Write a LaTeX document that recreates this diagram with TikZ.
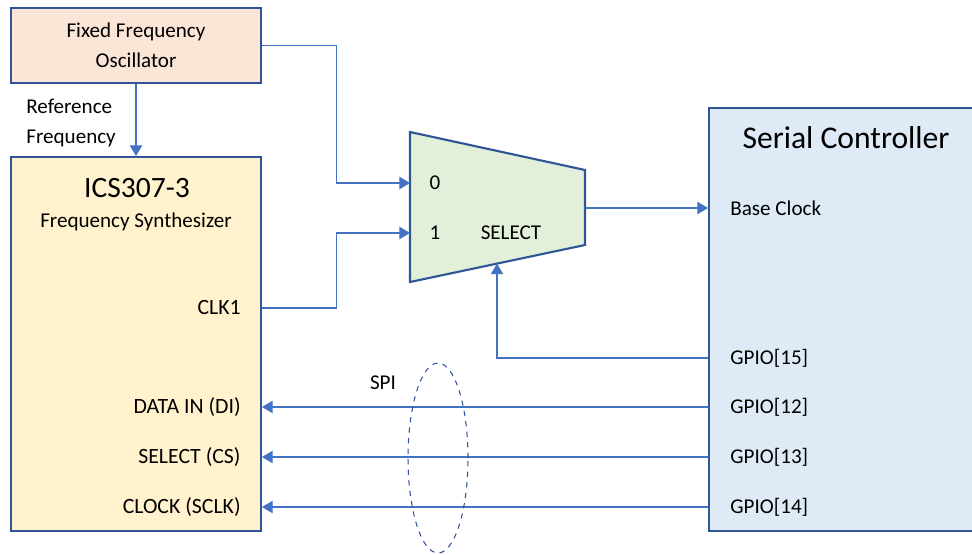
\documentclass[tikz,border=0pt]{standalone}
\usepackage{fontspec}
\setmainfont{Carlito}
\usepackage{tikz}
\usetikzlibrary{arrows.meta,calc,positioning,shapes.geometric}

\definecolor{oscfill}{HTML}{FBE5D6}
\definecolor{icsfill}{HTML}{FFF2CC}
\definecolor{serfill}{HTML}{DEEBF7}
\definecolor{muxfill}{HTML}{E2F0D9}
\definecolor{edgeblue}{HTML}{2F5597}
\definecolor{wireblue}{HTML}{4472C4}

\begin{document}
\begin{tikzpicture}[
    x=0.02cm, y=-0.02cm,
    font=\fontsize{12}{17}\selectfont,
    block/.style={draw=edgeblue, line width=1.2pt, rectangle, inner sep=0pt},
    wire/.style={draw=wireblue, line width=0.6pt},
    arr/.style={wire, -{Triangle[length=6pt,width=7pt]}},
    pinL/.style={anchor=west, inner sep=0pt},
    pinR/.style={anchor=east, inner sep=0pt, font=\fontsize{12.4}{17}\selectfont}
]
\clip (0,0) rectangle (972,554);

% Blocks
\node[block, fill=oscfill, minimum width=5cm, minimum height=1.5cm, align=center] (osc) at (136,45.5) {Fixed Frequency\\Oscillator};
\node[block, fill=icsfill, minimum width=5cm, minimum height=7.48cm] (ics) at (136,344) {};
\node[block, fill=serfill, minimum width=5.52cm, minimum height=8.47cm] (ser) at (847,319.5) {};

\node (icsTitle) at (137,188) {\fontsize{16.8}{20}\selectfont ICS307-3};
\node (icsSub) at (136,222) {Frequency Synthesizer};
\node (serTitle) at (846,138) {\fontsize{18}{22}\selectfont Serial Controller};
\node[anchor=west, align=left, inner sep=0pt] (refFreq) at (26,123) {Reference\\Frequency};

% Multiplexer
\coordinate (muxTL) at (410,132);
\coordinate (muxTR) at (585,170);
\coordinate (muxBR) at (585,245);
\coordinate (muxBL) at (410,282);
\draw[draw=edgeblue, line width=1.2pt, fill=muxfill, line join=miter] (muxTL) -- (muxTR) -- (muxBR) -- (muxBL) -- cycle;
\coordinate (mux0) at (410,183);
\coordinate (mux1) at (410,233);
\coordinate (muxOut) at (585,208);
\coordinate (muxSel) at (497,263.6);
\node (in0) at (435,183) {0};
\node (in1) at (435,233) {1};
\node (sel) at (511,233) {SELECT};

% Pin labels
\node[pinR] (clk1) at (241,308) {CLK1};
\node[pinR] (di) at (241,407) {DATA IN (DI)};
\node[pinR] (cs) at (241,457) {SELECT (CS)};
\node[pinR] (sclk) at (241,507) {CLOCK (SCLK)};
\node[pinL] (base) at (730,208) {Base Clock};
\node[pinL] (gpio15) at (730,358) {GPIO[15]};
\node[pinL] (gpio12) at (730,407) {GPIO[12]};
\node[pinL] (gpio13) at (730,457) {GPIO[13]};
\node[pinL] (gpio14) at (730,507) {GPIO[14]};

% Connections
\draw[arr] (osc.south) -- (ics.north);
\draw[arr] (osc.east) -- ++(74,0) |- (mux0);
\draw[arr] (ics.east |- clk1) -- ++(74,0) |- (mux1);
\draw[arr] (muxOut) -- (ser.west |- muxOut);
\draw[arr] (ser.west |- gpio15) -| (muxSel);
\foreach \g/\p in {gpio12/di, gpio13/cs, gpio14/sclk}
  \draw[arr] (ser.west |- \g) -- (ics.east |- \p);

% SPI bundle
\node[draw=edgeblue, dashed, line width=0.6pt, ellipse, minimum width=1.2cm, minimum height=3.8cm, inner sep=0pt] (spiRing) at (438,458) {};
\node (spi) at (383,383) {SPI};

\end{tikzpicture}
\end{document}
